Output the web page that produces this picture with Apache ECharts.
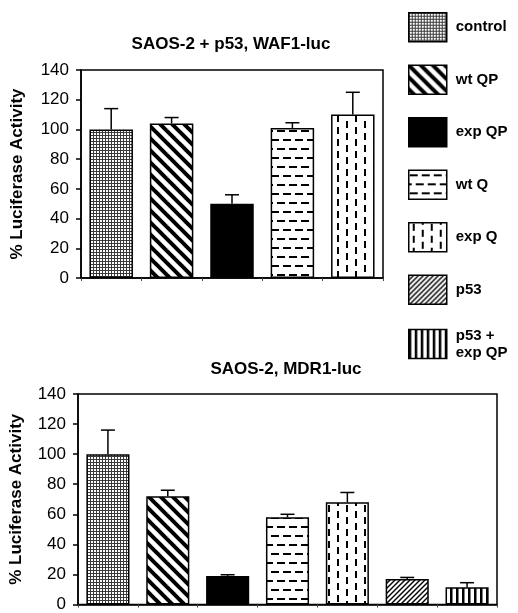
<!DOCTYPE html>
<html>
<head>
<meta charset="utf-8">
<script src="https://cdn.jsdelivr.net/npm/echarts@6/dist/echarts.min.js"></script>
<style>
  html, body { margin: 0; padding: 0; background: #fff; }
  #chart { width: 518px; height: 613px; }
</style>
</head>
<body>
<div id="chart"></div>
<script>
  // conditions, in legend order
  var conditions = ['control', 'wt QP', 'exp QP', 'wt Q', 'exp Q', 'p53', 'p53 +\nexp QP'];

  // SAOS-2 + p53, WAF1-luc (first five conditions)
  var wafValues = [100, 104, 50, 101, 110];
  var wafErrors = [14, 4, 6, 3.5, 15];

  // SAOS-2, MDR1-luc (all seven conditions)
  var mdrValues = [100, 72, 19, 58, 68, 17, 11.5];
  var mdrErrors = [16, 4, 0.8, 2, 6.5, 1, 3];

  var titles = ['SAOS-2 + p53, WAF1-luc', 'SAOS-2, MDR1-luc'];
  var yName = '% Luciferase Activity';

  var FONT = "'Liberation Sans', Arial, Helvetica, sans-serif";

  var makePattern = function(w, h, draw) {
    var c = document.createElement('canvas');
    c.width = w;
    c.height = h;
    var ctx = c.getContext('2d');
    ctx.fillStyle = '#fff';
    ctx.fillRect(0, 0, w, h);
    ctx.fillStyle = '#000';
    ctx.strokeStyle = '#000';
    draw(ctx, w, h);
    return { image: c, repeat: 'repeat' };
  };

  var patterns = [
    // control: fine stipple
    makePattern(3, 3, function(ctx) {
      ctx.fillStyle = '#3a3a3a';
      ctx.fillRect(0, 0, 3, 1);
      ctx.fillRect(0, 0, 1, 3);
    }),
    // wt QP: wide "\" stripes
    makePattern(12, 12, function(ctx) {
      ctx.lineWidth = 4;
      [-12, 0, 12].forEach(function(o) {
        ctx.beginPath();
        ctx.moveTo(o - 2, -2);
        ctx.lineTo(o + 14, 14);
        ctx.stroke();
      });
    }),
    // exp QP: solid
    '#000',
    // wt Q: horizontal dashes
    makePattern(24, 18, function(ctx) {
      ctx.fillRect(1, 4, 8, 2);
      ctx.fillRect(13, 4, 8, 2);
      ctx.fillRect(7, 13, 8, 2);
      ctx.fillRect(19, 13, 5, 2);
      ctx.fillRect(0, 13, 3, 2);
    }),
    // exp Q: vertical dashes
    makePattern(18, 24, function(ctx) {
      ctx.fillRect(4, 1, 2, 7);
      ctx.fillRect(4, 13, 2, 7);
      ctx.fillRect(13, 7, 2, 7);
      ctx.fillRect(13, 19, 2, 5);
      ctx.fillRect(13, 0, 2, 2);
    }),
    // p53: thin dense "/" stripes
    makePattern(5, 5, function(ctx) {
      ctx.lineWidth = 1.4;
      [-5, 0, 5].forEach(function(o) {
        ctx.beginPath();
        ctx.moveTo(o - 1, 6);
        ctx.lineTo(o + 6, -1);
        ctx.stroke();
      });
    }),
    // p53 + exp QP: vertical stripes
    makePattern(6, 6, function(ctx) {
      ctx.fillRect(0, 0, 2.5, 6);
    })
  ];

  var grids = [
    { left: 81, top: 70, width: 302, height: 208, values: wafValues, errors: wafErrors, nameGap: 55 },
    { left: 77, top: 394, width: 420, height: 216, values: mdrValues, errors: mdrErrors, nameGap: 53 }
  ];

  var errorRender = function(params, api) {
    var x = api.value(0);
    var lo = api.coord([x, api.value(1)]);
    var hi = api.coord([x, api.value(2)]);
    var half = 7;
    var style = { stroke: '#000', lineWidth: 1.5 };
    return {
      type: 'group',
      children: [
        { type: 'line', shape: { x1: lo[0], y1: lo[1], x2: hi[0], y2: hi[1] }, style: style },
        { type: 'line', shape: { x1: hi[0] - half, y1: hi[1], x2: hi[0] + half, y2: hi[1] }, style: style }
      ]
    };
  };

  var option = {
    backgroundColor: '#fff',
    animation: false,
    title: [
      { text: titles[0], left: 226, top: 31, textAlign: 'center',
        textStyle: { fontFamily: FONT, fontSize: 17, fontWeight: 'bold', color: '#000' } },
      { text: titles[1], left: 281, top: 356, textAlign: 'center',
        textStyle: { fontFamily: FONT, fontSize: 17, fontWeight: 'bold', color: '#000' } }
    ],
    legend: {
      orient: 'vertical',
      left: 408,
      top: 12,
      padding: 0,
      itemWidth: 38,
      itemHeight: 29,
      itemGap: 22,
      selectedMode: false,
      icon: 'rect',
      data: conditions,
      itemStyle: { borderColor: '#000', borderWidth: 1.5 },
      textStyle: { fontFamily: FONT, fontSize: 15, fontWeight: 'bold', color: '#000',
        lineHeight: 17, padding: [0, 0, 0, 4] }
    },
    grid: [],
    xAxis: [],
    yAxis: [],
    series: []
  };

  grids.forEach(function(g, gi) {
    var cats = conditions.slice(0, g.values.length);
    option.grid.push({
      left: g.left, top: g.top, width: g.width, height: g.height,
      show: true, borderColor: '#000', borderWidth: 1.5, backgroundColor: 'transparent'
    });
    option.xAxis.push({
      type: 'category',
      gridIndex: gi,
      data: cats,
      boundaryGap: true,
      axisLine: { lineStyle: { color: '#000', width: 1.5 } },
      axisTick: { show: true, length: 3, interval: 0, lineStyle: { color: '#444' } },
      axisLabel: { show: false },
      splitLine: { show: false }
    });
    option.yAxis.push({
      type: 'value',
      gridIndex: gi,
      min: 0,
      max: 140,
      interval: 20,
      name: yName,
      nameLocation: 'middle',
      nameRotate: 90,
      nameGap: g.nameGap,
      nameTextStyle: { fontFamily: FONT, fontSize: 17, fontWeight: 'bold', color: '#000' },
      axisLine: { show: true, lineStyle: { color: '#000', width: 1.5 } },
      axisTick: { show: true, length: 5, lineStyle: { color: '#000', width: 1.5 } },
      axisLabel: { fontFamily: FONT, fontSize: 17, color: '#000', margin: 12 },
      splitLine: { show: false }
    });
    cats.forEach(function(name, i) {
      option.series.push({
        type: 'bar',
        name: name,
        xAxisIndex: gi,
        yAxisIndex: gi,
        stack: 'g' + gi,
        barWidth: '72%',
        data: g.values.map(function(v, j) { return j === i ? v : '-'; }),
        itemStyle: { color: patterns[i], borderColor: '#000', borderWidth: 1.5 }
      });
    });
    option.series.push({
      type: 'custom',
      name: 'err' + gi,
      xAxisIndex: gi,
      yAxisIndex: gi,
      z: 5,
      renderItem: errorRender,
      encode: { x: 0, y: [1, 2] },
      data: g.values.map(function(v, i) { return [i, v, v + g.errors[i]]; })
    });
  });

  var chart = echarts.init(document.getElementById('chart'), null, { renderer: 'canvas' });
  chart.setOption(option);
</script>
</body>
</html>
